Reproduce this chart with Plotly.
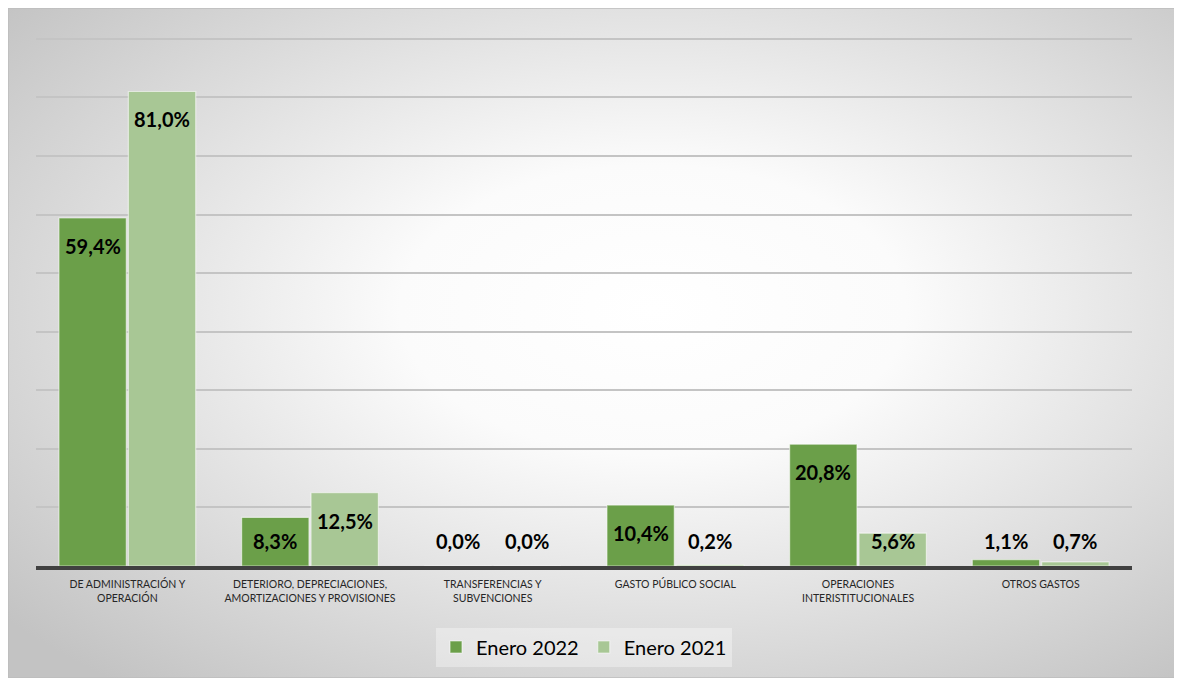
import base64
import plotly.graph_objects as go

categories = [
    "DE ADMINISTRACIÓN Y<br>OPERACIÓN",
    "DETERIORO, DEPRECIACIONES,<br>AMORTIZACIONES Y PROVISIONES",
    "TRANSFERENCIAS Y<br>SUBVENCIONES",
    "GASTO PÚBLICO SOCIAL",
    "OPERACIONES<br>INTERISTITUCIONALES",
    "OTROS GASTOS",
]
enero_2022 = [59.4, 8.3, 0.0, 10.4, 20.8, 1.1]
enero_2021 = [81.0, 12.5, 0.0, 0.2, 5.6, 0.7]
series_names = ["Enero 2022", "Enero 2021"]
colors = ["#6b9f49", "#a8c795"]

# page has an 8px body margin: figure drawn 8px in from the window corner
OFF = 8
W, H = 1182 - OFF, 678 - OFF
M = dict(l=36 - OFF, r=50, t=37 - OFF, b=112)
YMAX = 90.3
BARGAP, GROUPGAP = 0.24, 0.03
FONT = "Lato"

fig = go.Figure()
for name, vals, col in zip(series_names, [enero_2022, enero_2021], colors):
    fig.add_trace(go.Bar(
        x=categories, y=vals, name=name,
        marker=dict(color=col, line=dict(color="rgba(255,255,255,0.55)", width=1.2)),
        hoverinfo="skip",
    ))

# data labels (inside end, clamped above axis for short bars)
plot_h = H - M["t"] - M["b"]
plot_w = W - M["l"] - M["r"]
ppu = plot_h / YMAX
slot = (1 - BARGAP) / 2
for si, vals in enumerate([enero_2022, enero_2021]):
    off = -slot / 2 if si == 0 else slot / 2
    for ci, v in enumerate(vals):
        top_px = v * ppu
        center_px = max(top_px - 28, 25)
        fig.add_annotation(
            x=ci + off, y=v, xref="x", yref="y",
            yshift=center_px - top_px,
            text="<b>" + f"{v:.1f}".replace(".", ",") + "%</b>",
            showarrow=False, yanchor="middle", xanchor="center",
            font=dict(family=FONT, size=20, color="#000000"),
        )

# radial gradient background
svg = (
    '<svg xmlns="http://www.w3.org/2000/svg" width="100" height="100" '
    'preserveAspectRatio="none">'
    '<defs><radialGradient id="g" cx="0.55" cy="0.45" r="0.72">'
    '<stop offset="0" stop-color="#ffffff"/>'
    '<stop offset="0.3" stop-color="#fbfbfb"/>'
    '<stop offset="1" stop-color="#c3c3c3"/>'
    '</radialGradient></defs>'
    '<rect width="100" height="100" fill="url(#g)"/></svg>'
)
src = "data:image/svg+xml;base64," + base64.b64encode(svg.encode()).decode()
x0 = (0 - M["l"]) / plot_w
x1 = (1181 - OFF - M["l"]) / plot_w
ytop = 1 + (M["t"] - 0) / plot_h
ybot = -(H - M["t"] - plot_h) / plot_h
fig.add_layout_image(
    source=src, xref="paper", yref="paper", x=x0, y=ytop,
    sizex=x1 - x0, sizey=ytop - ybot, sizing="stretch",
    xanchor="left", yanchor="top", layer="below",
)
fig.add_shape(type="rect", xref="paper", yref="paper", x0=x0, x1=x1, y0=ybot, y1=ytop,
              line=dict(color="#bdbdbd", width=1.5), fillcolor="rgba(0,0,0,0)", layer="below")

fig.update_layout(
    width=W, height=H, margin=M,
    paper_bgcolor="#ffffff", plot_bgcolor="rgba(0,0,0,0)",
    barmode="group", bargap=BARGAP, bargroupgap=GROUPGAP,
    font=dict(family=FONT, color="#404040"),
    showlegend=True,
    legend=dict(orientation="h", x=0.5, xanchor="center", y=-81 / plot_h,
                yanchor="middle", bgcolor="rgba(255,255,255,0.35)",
                font=dict(family=FONT, size=20, color="#000000"),
                itemwidth=30, tracegroupgap=0),
    xaxis=dict(
        showline=True, linecolor="#404040", linewidth=3.5,
        ticks="outside", ticklen=6, tickcolor="rgba(0,0,0,0)",
        tickfont=dict(family=FONT, size=10.5, color="#262626"),
        showgrid=False,
    ),
    yaxis=dict(
        range=[0, YMAX], dtick=10, showticklabels=False,
        showgrid=True, gridcolor="#c4c4c4", gridwidth=1.5,
        zeroline=False,
    ),
)

fig.write_html("out.html")
